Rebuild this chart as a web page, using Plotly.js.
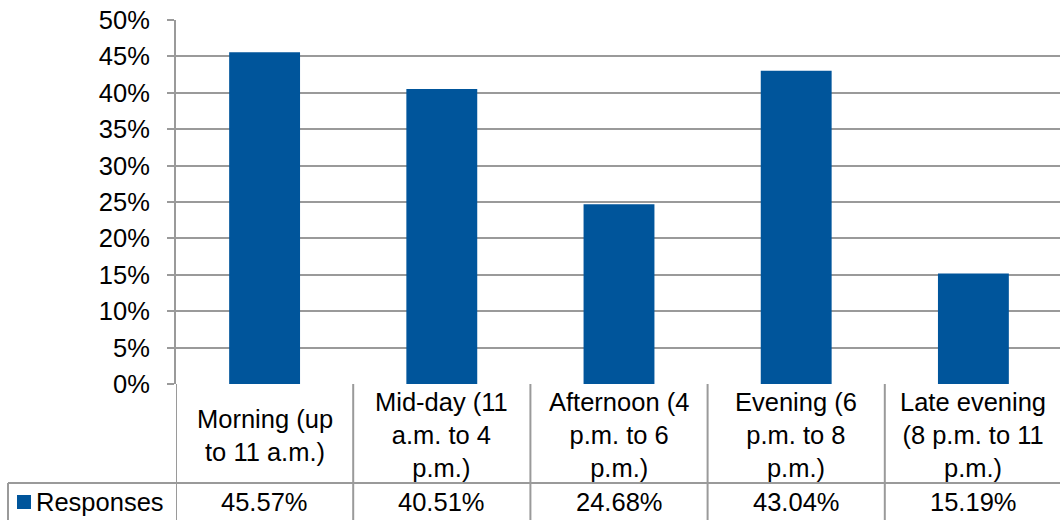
<!DOCTYPE html>
<html>
<head>
<meta charset="utf-8">
<script src="https://cdn.plot.ly/plotly-3.0.1.min.js"></script>
<style>
html,body{margin:0;padding:0;overflow:hidden;background:#fff;}
#chart{width:1062px;height:520px;}
</style>
</head>
<body>
<div id="chart"></div>
<script>
// ---- data ----
const categories = [
  "Morning (up<br>to 11 a.m.)",
  "Mid-day (11<br>a.m. to 4<br>p.m.)",
  "Afternoon (4<br>p.m. to 6<br>p.m.)",
  "Evening (6<br>p.m. to 8<br>p.m.)",
  "Late evening<br>(8 p.m. to 11<br>p.m.)"
];
const responses = [45.57, 40.51, 24.68, 43.04, 15.19];
const seriesName = "Responses";
const yTickVals = [0, 5, 10, 15, 20, 25, 30, 35, 40, 45, 50];

// ---- layout helpers (pixel geometry of the frame) ----
const W = 1062, H = 520;
const mL = 176, mR = 0, mT = 20, mB = 136;
const plotW = W - mL - mR, plotH = H - mT - mB;
const pyToPaper = py => (H - mB - py) / plotH;
const pxToPaper = px => (px - mL) / plotW;

const barColor = "#00559B";
const lineColor = "#9a9a9a";
const fontFam = "Liberation Sans, Arial, sans-serif";
const fs = 25.5;

const tableRowTop = 483;     // pixel y of data-row top line
const tableLeft = 8;         // pixel x of data-row left border

const shapes = [];
// vertical separators of category cells
for (let i = 0; i <= categories.length; i++) {
  shapes.push({type: "line", xref: "x", yref: "paper",
    x0: i - 0.5, x1: i - 0.5, y0: 0, y1: pyToPaper(H + 2),
    line: {color: lineColor, width: 2}});
}
// data-row top line
shapes.push({type: "line", xref: "paper", yref: "paper",
  x0: pxToPaper(tableLeft), x1: 1, y0: pyToPaper(tableRowTop), y1: pyToPaper(tableRowTop),
  line: {color: lineColor, width: 2}});
// data-row left border
shapes.push({type: "line", xref: "paper", yref: "paper",
  x0: pxToPaper(tableLeft), x1: pxToPaper(tableLeft), y0: pyToPaper(tableRowTop), y1: pyToPaper(H + 2),
  line: {color: lineColor, width: 2}});
// legend key square
shapes.push({type: "rect", xref: "paper", yref: "paper",
  x0: pxToPaper(17), x1: pxToPaper(31), y0: pyToPaper(495), y1: pyToPaper(509),
  fillcolor: barColor, line: {width: 0}});

const annotations = [];
categories.forEach((c, i) => {
  annotations.push({xref: "x", yref: "paper", x: c, y: pyToPaper(435),
    text: c, showarrow: false, xanchor: "center", yanchor: "middle", align: "center",
    font: {family: fontFam, size: fs, color: "#000"}});
  annotations.push({xref: "x", yref: "paper", x: c, y: pyToPaper(502),
    text: responses[i].toFixed(2) + "%", showarrow: false, xanchor: "center", yanchor: "middle",
    font: {family: fontFam, size: fs, color: "#000"}});
});
annotations.push({xref: "paper", yref: "paper", x: pxToPaper(34), y: pyToPaper(502),
  text: seriesName, showarrow: false, xanchor: "left", yanchor: "middle",
  font: {family: fontFam, size: fs, color: "#000"}});

const trace = {
  type: "bar", x: categories, y: responses, name: seriesName,
  marker: {color: barColor}, hoverinfo: "skip"
};

const layout = {
  width: W, height: H,
  margin: {l: mL, r: mR, t: mT, b: mB, pad: 0},
  paper_bgcolor: "#fff", plot_bgcolor: "#fff",
  showlegend: false, bargap: 0.6,
  font: {family: fontFam, size: fs, color: "#000"},
  xaxis: {type: "category", showticklabels: false, ticks: "", showgrid: false,
    zeroline: false, showline: false, range: [-0.5, categories.length - 0.5], fixedrange: true},
  yaxis: {range: [0, 50], tickvals: yTickVals, ticktext: yTickVals.map(v => v + "%"),
    ticks: "outside", ticklen: 7, tickwidth: 2, tickcolor: lineColor,
    showgrid: true, gridcolor: lineColor, gridwidth: 2,
    showline: true, linecolor: lineColor, linewidth: 2, zeroline: false,
    ticklabelstandoff: 12,
    tickfont: {family: fontFam, size: fs, color: "#000"}, fixedrange: true},
  shapes: shapes, annotations: annotations
};

Plotly.newPlot("chart", [trace], layout, {displayModeBar: false, staticPlot: true});
</script>
</body>
</html>
